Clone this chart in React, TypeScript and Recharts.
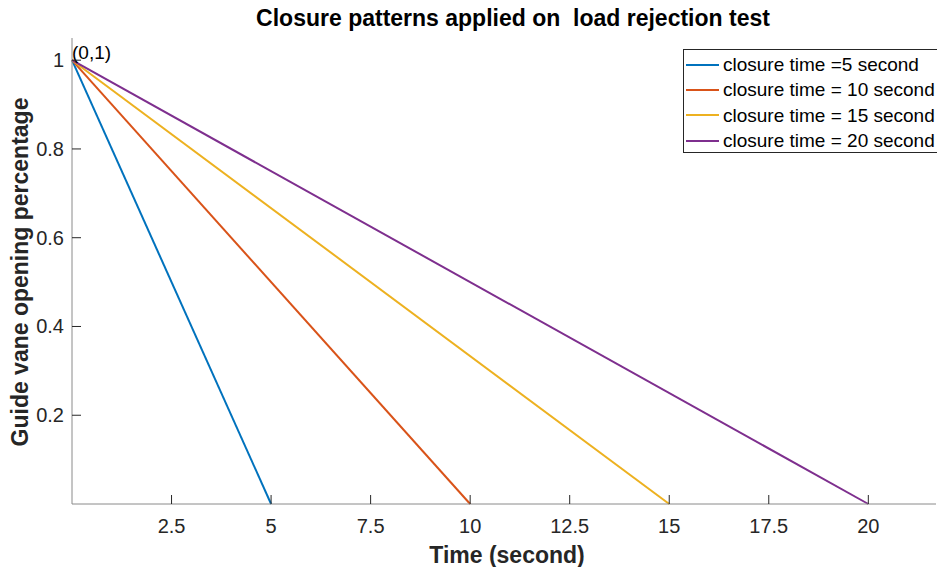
import React from 'react';
import { LineChart, Line, XAxis, YAxis, ReferenceDot } from 'recharts';

// Closure patterns: guide vane opening falls linearly from 1 to 0
const closureTimes = [5, 10, 15, 20];
const seriesNames = [
  'closure time =5 second',
  'closure time = 10 second',
  'closure time = 15 second',
  'closure time = 20 second',
];
const seriesColors = ['#0072BD', '#D95319', '#EDB120', '#7E2F8E'];
const startOpening = 1;
const endOpening = 0;

const xTicks = [2.5, 5, 7.5, 10, 12.5, 15, 17.5, 20];
const yTicks = [0.2, 0.4, 0.6, 0.8, 1];

const series = closureTimes.map((t, i) => ({
  name: seriesNames[i],
  color: seriesColors[i],
  data: [
    { time: 0, opening: startOpening },
    { time: t, opening: endOpening },
  ],
}));

const W = 937;
const H = 567;
const TEXT = '#262626';
const FONT = 'Liberation Sans, Arial, sans-serif';

const XTick = (props: any) => {
  const { x, y, payload } = props;
  return (
    <g>
      <line x1={x} x2={x} y1={y} y2={y - 9} stroke={TEXT} strokeWidth={1} />
      <text x={x} y={y + 29} textAnchor="middle" fill={TEXT} fontSize={20} fontFamily={FONT}>
        {payload.value}
      </text>
    </g>
  );
};

const YTick = (props: any) => {
  const { x, y, payload } = props;
  return (
    <g>
      <line x1={x} x2={x + 9} y1={y} y2={y} stroke={TEXT} strokeWidth={1} />
      <text x={x - 8} y={y + 7} textAnchor="end" fill={TEXT} fontSize={20} fontFamily={FONT}>
        {payload.value}
      </text>
    </g>
  );
};

const LegendBox = () => (
  <div
    style={{
      position: 'absolute',
      left: 683,
      top: 49,
      width: 260,
      height: 104,
      border: '1px solid #262626',
      background: '#fff',
      boxSizing: 'border-box',
      paddingTop: 2,
      fontFamily: FONT,
      fontSize: 19,
      color: '#000',
    }}
  >
    {series.map((s) => (
      <div key={s.name} style={{ display: 'flex', alignItems: 'center', height: 25.3, whiteSpace: 'nowrap' }}>
        <div style={{ width: 33, height: 2, background: s.color, marginLeft: 2, marginRight: 4 }} />
        <span style={{ lineHeight: '25px' }}>{s.name}</span>
      </div>
    ))}
  </div>
);

const OriginLabel = (props: any) => {
  const { viewBox } = props;
  const cx = viewBox.x + (viewBox.width || 0) / 2;
  const cy = viewBox.y + (viewBox.height || 0) / 2;
  return (
    <text x={cx} y={cy - 1} fill="#000" fontSize={19} fontFamily={FONT}>
      (0,1)
    </text>
  );
};

export default function App() {
  return (
    <div style={{ position: 'absolute', left: 0, top: 0, width: W, height: H, background: '#fff', overflow: 'hidden' }}>
      <LineChart width={W} height={H} margin={{ top: 38, right: 1, bottom: 33, left: 12 }}>
        <text
          x={513}
          y={26}
          textAnchor="middle"
          fontSize={23}
          fontWeight="bold"
          fontFamily={FONT}
          fill="#000"
          style={{ whiteSpace: 'pre' }}
        >
          {'Closure patterns applied on  load rejection test'}
        </text>
        <text
          x={0}
          y={0}
          transform="translate(28,272) rotate(-90)"
          textAnchor="middle"
          fontSize={23}
          fontWeight="bold"
          fontFamily={FONT}
          fill={TEXT}
        >
          Guide vane opening percentage
        </text>
        <text x={507} y={563} textAnchor="middle" fontSize={23} fontWeight="bold" fontFamily={FONT} fill={TEXT}>
          Time (second)
        </text>
        <XAxis
          dataKey="time"
          type="number"
          domain={[0, 21.7]}
          ticks={xTicks}
          allowDuplicatedCategory={false}
          height={30}
          stroke="#8a8a8a"
          tickSize={0}
          tickMargin={0}
          tick={<XTick />}
          interval={0}
        />
        <YAxis
          dataKey="opening"
          type="number"
          domain={[0, 1.05]}
          ticks={yTicks}
          width={60}
          stroke="#8a8a8a"
          tickSize={0}
          tickMargin={0}
          tick={<YTick />}
          interval={0}
        />
        {series.map((s) => (
          <Line
            key={s.name}
            data={s.data}
            dataKey="opening"
            name={s.name}
            type="linear"
            stroke={s.color}
            strokeWidth={2}
            dot={false}
            activeDot={false}
            isAnimationActive={false}
          />
        ))}
        <ReferenceDot x={0} y={1} r={0} ifOverflow="visible" label={<OriginLabel />} />
      </LineChart>
      <LegendBox />
    </div>
  );
}
